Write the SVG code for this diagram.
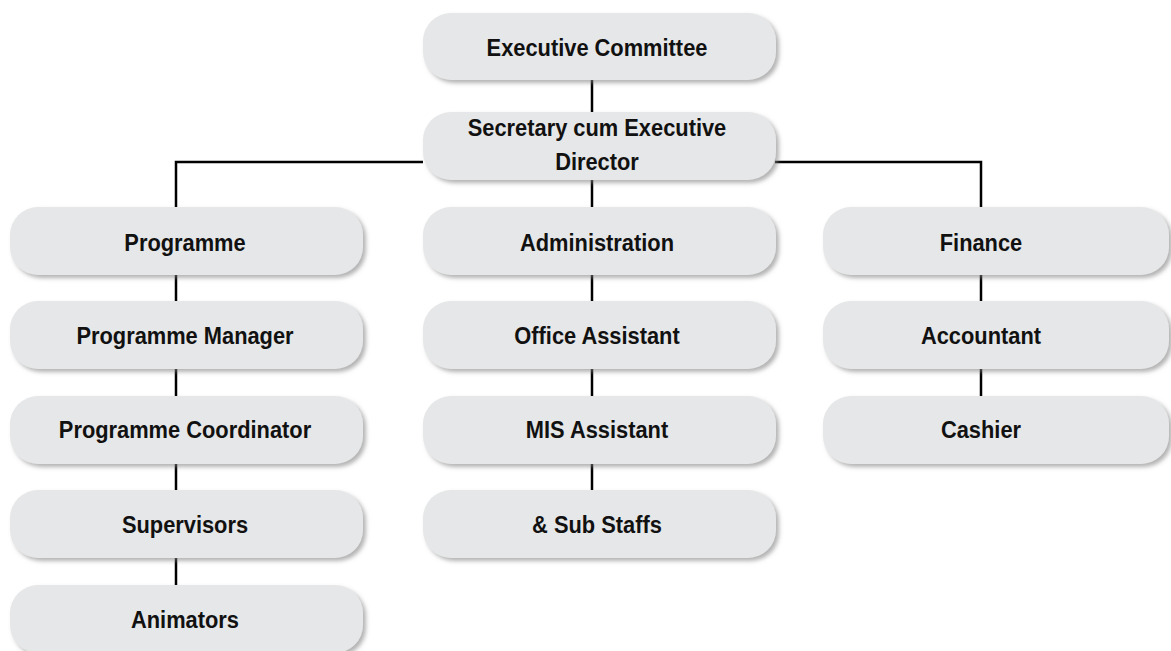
<svg xmlns="http://www.w3.org/2000/svg" width="1171" height="651" viewBox="0 0 1171 651">
<defs>
<filter id="sh" x="-10%" y="-20%" width="120%" height="150%">
<feDropShadow dx="3" dy="3" stdDeviation="2" flood-color="#808080" flood-opacity="0.6"/>
</filter>
<style>
.box{fill:#e6e7e8;filter:url(#sh);}
.t{font-family:"Liberation Sans",Arial,sans-serif;font-weight:bold;font-size:24px;fill:#111;text-anchor:middle;}
.c{stroke:#000;stroke-width:2.5;fill:none;}
</style>
</defs>
<rect width="1171" height="651" fill="#fff"/>
<g id="connectors">
<path class="c" d="M592 80V112"/>
<path class="c" d="M592 180V207"/>
<path class="c" d="M176 207V162H423"/>
<path class="c" d="M775 162H981V207"/>
<path class="c" d="M176 275V301"/>
<path class="c" d="M176 369V396"/>
<path class="c" d="M176 464V490"/>
<path class="c" d="M176 558V585"/>
<path class="c" d="M592 275V301"/>
<path class="c" d="M592 369V396"/>
<path class="c" d="M592 464V490"/>
<path class="c" d="M981 275V301"/>
<path class="c" d="M981 369V396"/>
</g>
<g id="n-exec"><rect class="box" x="423" y="13" width="353" height="67" rx="28"/><text class="t" transform="translate(597,56) scale(0.91,1)">Executive Committee</text></g>
<g id="n-sec"><rect class="box" x="423" y="112" width="353" height="68" rx="28"/><text class="t" transform="translate(597,136) scale(0.91,1)">Secretary cum Executive</text><text class="t" transform="translate(597,170) scale(0.91,1)">Director</text></g>
<g id="n-prog"><rect class="box" x="10" y="207" width="353" height="68" rx="28"/><text class="t" transform="translate(185,251) scale(0.91,1)">Programme</text></g>
<g id="n-pm"><rect class="box" x="10" y="301" width="353" height="68" rx="28"/><text class="t" transform="translate(185,344) scale(0.91,1)">Programme Manager</text></g>
<g id="n-pc"><rect class="box" x="10" y="396" width="353" height="68" rx="28"/><text class="t" transform="translate(185,438) scale(0.91,1)">Programme Coordinator</text></g>
<g id="n-sup"><rect class="box" x="10" y="490" width="353" height="68" rx="28"/><text class="t" transform="translate(185,533) scale(0.91,1)">Supervisors</text></g>
<g id="n-ani"><rect class="box" x="10" y="585" width="353" height="68" rx="28"/><text class="t" transform="translate(185,628) scale(0.91,1)">Animators</text></g>
<g id="n-adm"><rect class="box" x="423" y="207" width="353" height="68" rx="28"/><text class="t" transform="translate(597,251) scale(0.91,1)">Administration</text></g>
<g id="n-oa"><rect class="box" x="423" y="301" width="353" height="68" rx="28"/><text class="t" transform="translate(597,344) scale(0.91,1)">Office Assistant</text></g>
<g id="n-mis"><rect class="box" x="423" y="396" width="353" height="68" rx="28"/><text class="t" transform="translate(597,438) scale(0.91,1)">MIS Assistant</text></g>
<g id="n-sub"><rect class="box" x="423" y="490" width="353" height="68" rx="28"/><text class="t" transform="translate(597,533) scale(0.91,1)">&amp; Sub Staffs</text></g>
<g id="n-fin"><rect class="box" x="823" y="207" width="346" height="68" rx="28"/><text class="t" transform="translate(981,251) scale(0.91,1)">Finance</text></g>
<g id="n-acc"><rect class="box" x="823" y="301" width="346" height="68" rx="28"/><text class="t" transform="translate(981,344) scale(0.91,1)">Accountant</text></g>
<g id="n-cash"><rect class="box" x="823" y="396" width="346" height="68" rx="28"/><text class="t" transform="translate(981,438) scale(0.91,1)">Cashier</text></g>
</svg>
